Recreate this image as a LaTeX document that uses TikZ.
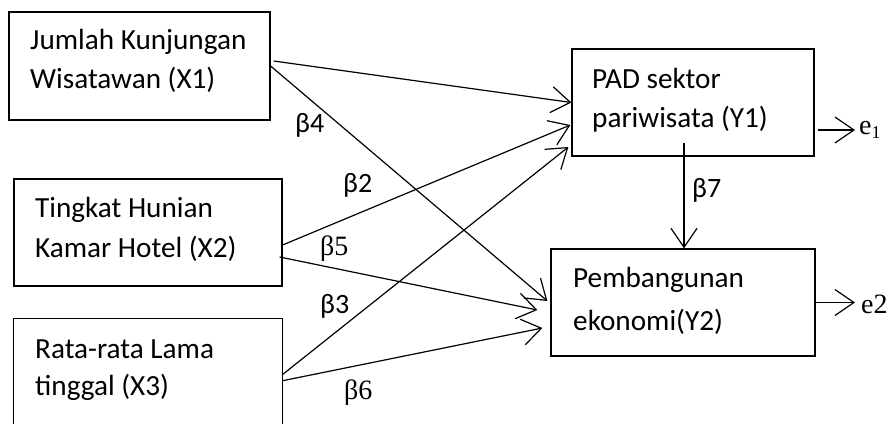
\documentclass[tikz,border=0pt]{standalone}
\usepackage{fontspec}
\setmainfont{Liberation Serif}
\newfontfamily\calfont{Carlito}
\usetikzlibrary{arrows.meta,calc}
\tikzset{
  box/.style={draw, line width=1.2pt, inner sep=0pt, rectangle},
  txt/.style={font=\calfont\fontsize{29.2pt}{33pt}\selectfont, anchor=base west, inner sep=0pt},
  betas/.style={font=\calfont\fontsize{28pt}{32pt}\selectfont, anchor=base west, inner sep=0pt},
  betat/.style={font=\fontsize{28pt}{32pt}\selectfont, anchor=base west, inner sep=0pt},
  arr/.style={line width=1.2pt, -{Straight Barb[length=19pt,width=26pt,line width=1.2pt]}}
}
\begin{document}
\begin{tikzpicture}[x=1pt,y=-1pt]
\useasboundingbox (0,0) rectangle (896,423);
\clip (0,0) rectangle (896,423);
% boxes
\node[box, minimum width=261pt, minimum height=108pt] (X1) at (139.5,66) {};
\node[box, minimum width=268pt, minimum height=107pt] (X2) at (148,232.5) {};
\node[draw=none, inner sep=0pt, minimum width=268pt, minimum height=107pt] (X3) at (148,372.5) {};
\draw[line width=1.2pt] (X3.south west) |- (X3.north east) -- (X3.south east);
\node[box, minimum width=242pt, minimum height=107pt] (Y1) at (693,102.5) {};
\node[box, minimum width=264pt, minimum height=107pt] (Y2) at (683,302.5) {};
% texts
\node[txt] (t1a) at (30,49) {Jumlah Kunjungan};
\node[txt] (t1b) at (30,88) {Wisatawan (X1)};
\node[txt] (t2a) at (35,217) {Tingkat Hunian};
\node[txt] (t2b) at (35,257) {Kamar Hotel (X2)};
\node[txt] (t3a) at (35,358) {Rata-rata Lama};
\node[txt] (t3b) at (35,395) {tinggal (X3)};
\node[txt] (t4a) at (592,88) {PAD sektor};
\node[txt] (t4b) at (592,127) {pariwisata (Y1)};
\node[txt] (t5a) at (573,287) {Pembangunan};
\node[txt] (t5b) at (573,330) {ekonomi(Y2)};
% beta labels
\node[betas] (b4) at (295,132) {β4};
\node[betas] (b2) at (343,192) {β2};
\node[betat] (b5) at (320,255) {β5};
\node[betas] (b3) at (320,313) {β3};
\node[betat] (b6) at (344,399) {β6};
\node[betas] (b7) at (692,197) {β7};
% error terms
\node[betat] (e1) at (859,134) {e\raisebox{-4pt}{\fontsize{18pt}{20pt}\selectfont 1}};
\node[betat] (e2) at (861,313) {e2};
\coordinate (e1tip) at (855,130);
\coordinate (e2tip) at (855,302.5);
% connectors
\draw[arr] ($(X1.east)+(3,-5)$) -- (Y1.west);
\draw[arr] (X1.east) -- ($(Y2.west)+(-3,-1.5)$);
\draw[arr] ($(X2.east)+(0,12.5)$) -- ($(Y1.west)+(-1,22.5)$);
\draw[arr] ($(X2.east)+(-3,24.5)$) -- ($(Y2.west)+(-13,7.5)$);
\draw[arr] ($(X3.north east)+(0,56)$) -- ($(Y1.west)+(-3,44.5)$);
\draw[arr] ($(X3.north east)+(0,62)$) -- ($(Y2.west)+(-8,25.5)$);
\draw[arr] ($(Y1.south)+(-9,-14)$) coordinate (v1) -- (v1 |- Y2.north);
\draw[arr] ($(Y1.east)+(3,27.5)$) -- (e1tip);
\draw[arr] (Y2.east) -- (e2tip);
\end{tikzpicture}
\end{document}
